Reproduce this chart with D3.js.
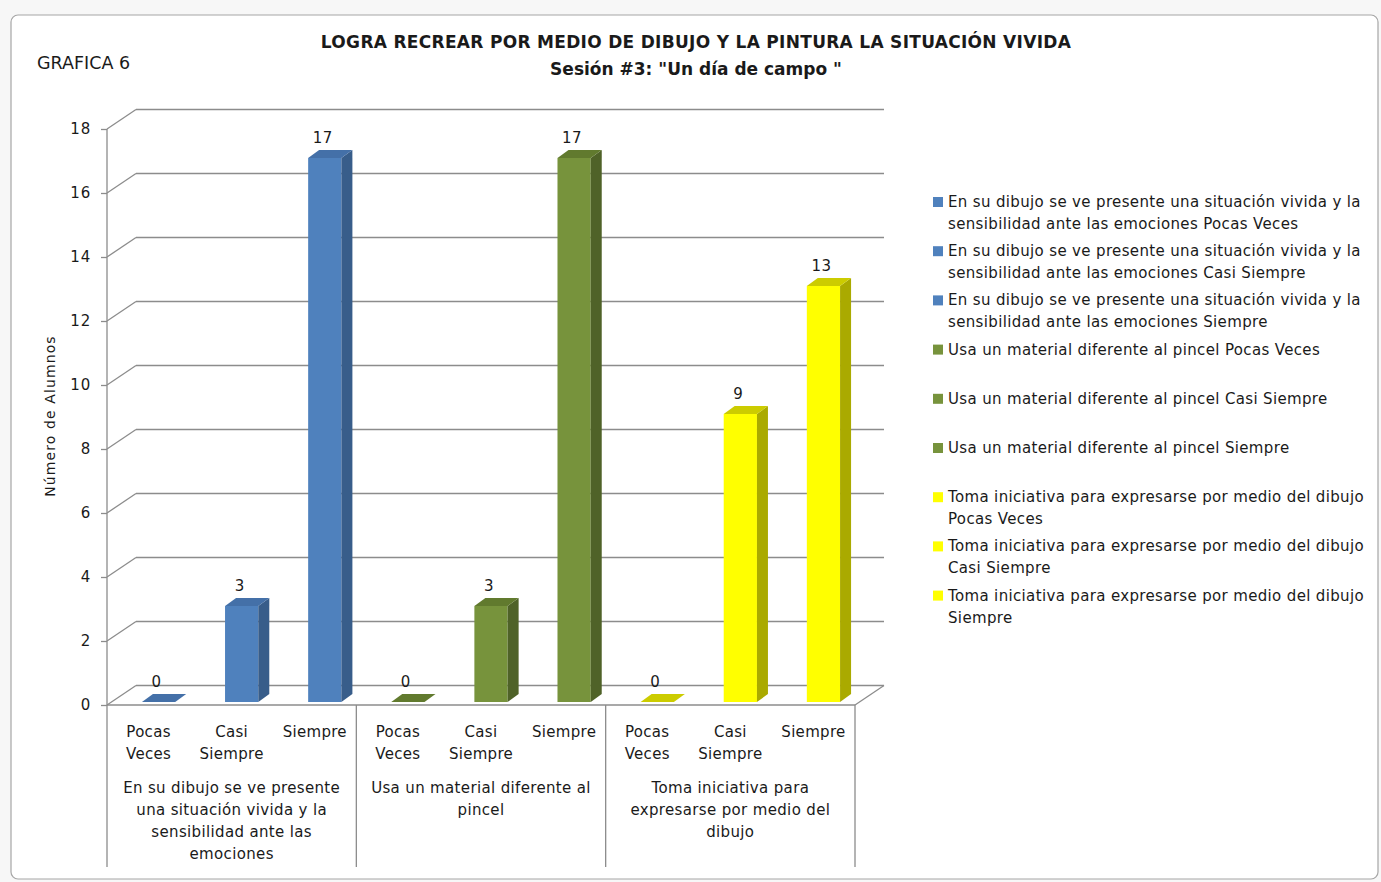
<!DOCTYPE html>
<html>
<head>
<meta charset="utf-8">
<script src="https://cdn.jsdelivr.net/npm/d3@7"></script>
<style>
  html, body { margin: 0; padding: 0; background: #ffffff; }
  svg { display: block; }
  text { font-family: "DejaVu Sans", sans-serif; fill: #1a1a1a; }
</style>
</head>
<body>
<svg id="chart" width="1381" height="882"></svg>
<script>
// ---------- DATA ----------
const chartLabel = "GRAFICA 6";
const titleLines = ["LOGRA RECREAR POR MEDIO DE DIBUJO Y LA PINTURA LA SITUACIÓN VIVIDA", "Sesión #3: \"Un día de campo \""];
const yAxisTitle = "Número de Alumnos";
const yTicks = [0, 2, 4, 6, 8, 10, 12, 14, 16, 18];
const groups = ["dibujo", "material", "iniciativa"];
const groupLabelLines = [
  ["En su dibujo se ve presente", "una situación vivida y la", "sensibilidad ante las", "emociones"],
  ["Usa un material diferente al", "pincel"],
  ["Toma iniciativa para", "expresarse por medio del", "dibujo"]
];
const levels = ["Pocas Veces", "Casi Siempre", "Siempre"];
const levelLabelLines = [["Pocas", "Veces"], ["Casi", "Siempre"], ["Siempre"]];
const valuesDibujo = [0, 3, 17];
const valuesMaterial = [0, 3, 17];
const valuesIniciativa = [0, 9, 13];
const legendLines = [
  ["En su dibujo se ve presente una situación vivida y la", "sensibilidad ante las emociones Pocas Veces"],
  ["En su dibujo se ve presente una situación vivida y la", "sensibilidad ante las emociones Casi Siempre"],
  ["En su dibujo se ve presente una situación vivida y la", "sensibilidad ante las emociones Siempre"],
  ["Usa un material diferente al pincel Pocas Veces"],
  ["Usa un material diferente al pincel Casi Siempre"],
  ["Usa un material diferente al pincel Siempre"],
  ["Toma iniciativa para expresarse por medio del dibujo", "Pocas Veces"],
  ["Toma iniciativa para expresarse por medio del dibujo", "Casi Siempre"],
  ["Toma iniciativa para expresarse por medio del dibujo", "Siempre"]
];
const groupColors = [
  { front: "#4F81BD", side: "#385D8A", top: "#4470A8" },
  { front: "#77933C", side: "#4F6228", top: "#617A2E" },
  { front: "#FFFF00", side: "#AAAA00", top: "#CCCC00" }
];
// ---------- LAYOUT ----------
const svg = d3.select("#chart");
const values = [valuesDibujo, valuesMaterial, valuesIniciativa];

svg.append("rect").attr("x", 0).attr("y", 0).attr("width", 1381).attr("height", 882).attr("fill", "#f7f7f7");
svg.append("rect").attr("x", 11).attr("y", 15).attr("width", 1367).attr("height", 864)
  .attr("rx", 7).attr("fill", "#ffffff").attr("stroke", "#a6a6a6").attr("stroke-width", 1.2);

const left = 107, right = 855, depthX = 29, depthY = -19.5;
const y = d3.scaleLinear().domain([0, 18]).range([705, 129]);
const x0 = d3.scaleBand().domain(groups).range([left, right]).paddingInner(0);
const x1 = d3.scaleBand().domain(levels).range([0, x0.bandwidth()]).paddingInner(0.6).paddingOuter(0.3);

const grid = svg.append("g");
yTicks.forEach(t => {
  const yy = y(t);
  grid.append("line").attr("x1", left + depthX).attr("x2", right + depthX)
    .attr("y1", yy + depthY).attr("y2", yy + depthY)
    .attr("stroke", "#8c8c8c").attr("stroke-width", 1.3);
  grid.append("line").attr("x1", left).attr("x2", left + depthX)
    .attr("y1", yy).attr("y2", yy + depthY)
    .attr("stroke", "#8c8c8c").attr("stroke-width", 1.3);
});
grid.append("line").attr("x1", left).attr("x2", right).attr("y1", y(0)).attr("y2", y(0))
  .attr("stroke", "#8c8c8c").attr("stroke-width", 1.5);
grid.append("line").attr("x1", right).attr("x2", right + depthX).attr("y1", y(0)).attr("y2", y(0) + depthY)
  .attr("stroke", "#8c8c8c").attr("stroke-width", 1.3);

const yAxis = d3.axisLeft(y).tickValues(yTicks).tickSize(6).tickPadding(10);
const yg = svg.append("g").attr("transform", `translate(${left},0)`).call(yAxis);
yg.select(".domain").remove();
yg.selectAll(".tick line").attr("stroke", "#8c8c8c").attr("stroke-width", 1.3);
yg.selectAll(".tick text").attr("font-size", 15).attr("font-family", "DejaVu Sans")
  .attr("fill", "#1a1a1a").attr("letter-spacing", 0.8);
svg.append("line").attr("x1", left).attr("x2", left).attr("y1", y(18)).attr("y2", 867)
  .attr("stroke", "#8c8c8c").attr("stroke-width", 1.3);

groups.forEach(g => {
  const xr = x0(g) + x0.bandwidth();
  svg.append("line").attr("x1", xr).attr("x2", xr).attr("y1", y(0)).attr("y2", 867)
    .attr("stroke", "#8c8c8c").attr("stroke-width", 1.3);
});

const barShiftX = 10, barShiftY = -3, sideX = 11, sideY = -8;
const bars = svg.append("g");
groups.forEach((g, gi) => {
  levels.forEach((l, li) => {
    const v = values[gi][li];
    const c = groupColors[gi];
    const xl = x0(g) + x1(l) + barShiftX;
    const xr = xl + x1.bandwidth();
    const yb = y(0) + barShiftY;
    const yt = y(v) + barShiftY;
    if (v > 0) {
      bars.append("rect").attr("x", xl).attr("y", yt).attr("width", xr - xl).attr("height", yb - yt).attr("fill", c.front);
      bars.append("polygon").attr("points", [[xr, yb], [xr + sideX, yb + sideY], [xr + sideX, yt + sideY], [xr, yt]].join(" "))
        .attr("fill", c.side);
    }
    bars.append("polygon").attr("points", [[xl, yt], [xr, yt], [xr + sideX, yt + sideY], [xl + sideX, yt + sideY]].join(" "))
      .attr("fill", c.top);
    bars.append("text").attr("x", (xl + xr) / 2 - 2).attr("y", yt + sideY - 7)
      .attr("text-anchor", "middle").attr("font-size", 15).attr("letter-spacing", 0.5).text(v);
  });
});

const catG = svg.append("g");
groups.forEach((g, gi) => {
  levels.forEach((l, li) => {
    const cx = x0(g) + x1(l) + x1.bandwidth() / 2;
    levelLabelLines[li].forEach((line, k) => {
      catG.append("text").attr("x", cx).attr("y", 737 + k * 22).attr("text-anchor", "middle")
        .attr("font-size", 15).attr("letter-spacing", 0.3).text(line);
    });
  });
  const gx = x0(g) + x0.bandwidth() / 2;
  groupLabelLines[gi].forEach((line, k) => {
    catG.append("text").attr("x", gx).attr("y", 793 + k * 22).attr("text-anchor", "middle")
      .attr("font-size", 15).attr("letter-spacing", 0.35).text(line);
  });
});

svg.append("text").attr("x", 37).attr("y", 69).attr("font-size", 17.5).text(chartLabel);
titleLines.forEach((t, i) => {
  svg.append("text").attr("x", 696).attr("y", 48 + i * 27).attr("text-anchor", "middle")
    .attr("font-size", 17).attr("font-weight", "bold")
    .attr("letter-spacing", i === 0 ? 0.3 : 0).text(t);
});
svg.append("text").attr("transform", "translate(55,416) rotate(-90)").attr("text-anchor", "middle")
  .attr("font-size", 14).attr("letter-spacing", 1.1).text(yAxisTitle);

const legendColorIdx = [0, 0, 0, 1, 1, 1, 2, 2, 2];
const lg = svg.append("g");
legendLines.forEach((lines, i) => {
  const ly = 207 + i * 49.2;
  lg.append("rect").attr("x", 933).attr("y", ly - 10).attr("width", 10).attr("height", 10)
    .attr("fill", groupColors[legendColorIdx[i]].front);
  lines.forEach((line, k) => {
    lg.append("text").attr("x", 948).attr("y", ly + k * 22).attr("font-size", 15)
      .attr("letter-spacing", 0.35).text(line);
  });
});
</script>
</body>
</html>
